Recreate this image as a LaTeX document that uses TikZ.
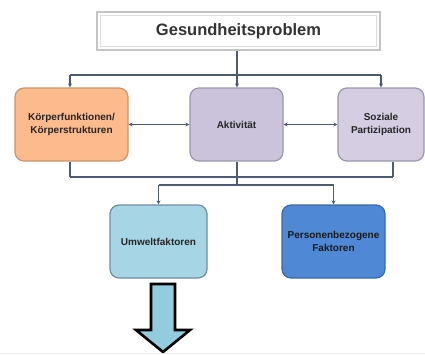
\documentclass[tikz,border=0pt]{standalone}
\usepackage{fontspec}
\setmainfont{Liberation Sans}
\usetikzlibrary{arrows.meta}
\definecolor{conncol}{HTML}{4C5B72}
\definecolor{orangefill}{HTML}{FDBA8C}
\definecolor{orangeline}{HTML}{C8956A}
\definecolor{purplefill}{HTML}{CBC3DC}
\definecolor{purpleline}{HTML}{9A96AE}
\definecolor{purplefillb}{HTML}{D5CDE2}
\definecolor{lbluefill}{HTML}{A6D6E6}
\definecolor{lblueline}{HTML}{6D8FA0}
\definecolor{bluefill}{HTML}{4F89D6}
\definecolor{blueline}{HTML}{3A68A6}
\definecolor{arrowfill}{HTML}{92CCDD}
\definecolor{topline}{HTML}{C4C4C4}
\tikzset{
  box/.style={draw, line width=1.2pt, rounded corners=9pt, align=center,
    font=\bfseries\fontsize{10}{13}\selectfont, text=black!85, inner sep=2pt},
  conn/.style={draw=conncol, line width=1.2pt},
  tip/.style={-{Stealth[length=4pt,width=4pt]}},
  tips/.style={{Stealth[length=4pt,width=4pt]}-{Stealth[length=4pt,width=4pt]}}
}
\begin{document}
\begin{tikzpicture}[x=1pt,y=-1pt]
\useasboundingbox (0,0) rectangle (425,354);
% top problem box
\node[draw=topline, line width=1.2pt, fill=white, minimum width=283pt, minimum height=38pt,
  font=\bfseries\fontsize{16.5}{18}\selectfont, text=black!80] (gp) at (238.5,31) {Gesundheitsproblem};
\draw[topline!60, line width=0.8pt] (gp.north west) ++(4pt,-4pt) rectangle ([xshift=-4pt,yshift=4pt]gp.south east);
% middle row
\node[box, draw=orangeline, fill=orangefill, minimum width=113pt, minimum height=73pt] (kf) at (71.5,124.5)
  {Körperfunktionen/\\Körperstrukturen};
\node[box, draw=purpleline, fill=purplefill, minimum width=93pt, minimum height=73pt] (akt) at (236.5,124.5)
  {Aktivität};
\node[box, draw=purpleline, fill=purplefillb, minimum width=86pt, minimum height=73pt] (pa) at (381,124.5)
  {Soziale\\Partizipation};
% bottom row
\node[box, draw=lblueline, fill=lbluefill, minimum width=97pt, minimum height=73pt] (uf) at (158.5,241.5)
  {Umweltfaktoren};
\node[box, draw=blueline, fill=bluefill, minimum width=103pt, minimum height=73pt, text=black!90] (pf) at (333.5,241.5)
  {Personenbezogene\\Faktoren};
% upper bus
\coordinate (busL) at (70,75);
\coordinate (busM) at (237,75);
\coordinate (busR) at (381,75);
\draw[conn] (gp.south -| busM) -- (busM);
\draw[conn] (busL) -- (busR);
\draw[conn,tip] (busL) -- (busL |- kf.north);
\draw[conn,tip] (busM) -- (busM |- akt.north);
\draw[conn,tip] (busR) -- (busR |- pa.north);
% horizontal arrows
\draw[conn,tips] (kf.east) -- (akt.west);
\draw[conn,tips] (akt.east) -- (pa.west);
% lower bus
\coordinate (lowL) at (70,177);
\coordinate (lowM) at (237,177);
\coordinate (lowR) at (393,177);
\draw[conn] (lowL |- kf.south) -- (lowL);
\draw[conn] (lowR |- pa.south) -- (lowR);
\draw[conn] (lowL) -- (lowR);
\coordinate (b2M) at (237,185);
\draw[conn] (lowM |- akt.south) -- (b2M);
\coordinate (b2L) at (158.5,185);
\coordinate (b2R) at (333.5,185);
\draw[conn] (b2L) -- (b2R);
\draw[conn,tip] (b2L) -- (uf.north);
\draw[conn,tip] (b2R) -- (pf.north);
% big arrow
\coordinate (arrTip) at (163,352);
\draw[fill=arrowfill, line width=2.6pt, line join=miter]
  (151,284) -- (175,284) -- (175,330) -- (190,330) -- (arrTip) -- (136,330) -- (151,330) -- cycle;
\draw[black!8, line width=1pt] (0,353) -- (425,353);
\end{tikzpicture}
\end{document}
